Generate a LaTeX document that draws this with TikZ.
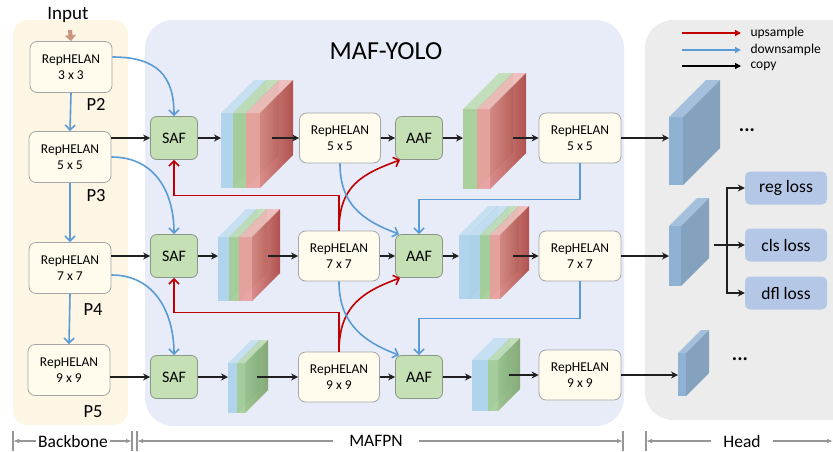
\documentclass[tikz,border=0pt]{standalone}
\usepackage{fontspec}
\setmainfont{Carlito}
\usetikzlibrary{arrows.meta,calc}
\definecolor{bbfill}{RGB}{253,246,229}
\definecolor{mafill}{RGB}{232,236,248}
\definecolor{hdfill}{RGB}{236,236,236}
\definecolor{repfill}{RGB}{255,252,238}
\definecolor{repdraw}{RGB}{165,165,165}
\definecolor{fusefill}{RGB}{197,224,180}
\definecolor{fusedraw}{RGB}{140,150,135}
\definecolor{upred}{RGB}{192,0,0}
\definecolor{downblue}{RGB}{91,155,213}
\definecolor{cblue}{RGB}{172,210,235}
\definecolor{sblue}{RGB}{140,185,215}
\definecolor{cgreen}{RGB}{165,206,150}
\definecolor{sgreen}{RGB}{125,165,110}
\definecolor{cred}{RGB}{234,160,158}
\definecolor{sred}{RGB}{172,70,65}
\definecolor{hfront}{RGB}{142,177,212}
\definecolor{htop}{RGB}{165,192,220}
\definecolor{hside}{RGB}{132,161,190}
\definecolor{lossfill}{RGB}{180,199,231}
\definecolor{brk}{RGB}{150,150,150}
\definecolor{inarr}{RGB}{200,150,130}
% x, w, ytop, ybot, depth, front colour, side colour
\newcommand\fslab[7]{%
  \fill[#6, opacity=0.92] (#1,#3) rectangle (#1+#2,#4);
  \fill[#6!70!white, opacity=0.92] (#1,#3) -- (#1+#2,#3) -- (#1+#2+#5,#3-#5) -- (#1+#5,#3-#5) -- cycle;
  \shade[left color=#6!70!#7, right color=#7, opacity=0.92] (#1+#2,#3) -- (#1+#2+#5,#3-#5) -- (#1+#2+#5,#4-#5) -- (#1+#2,#4) -- cycle;
}
% head slab
\newcommand\hslab[5]{%
  \fill[hfront] (#1,#3) rectangle (#1+#2,#4);
  \fill[htop] (#1,#3) -- (#1+#2,#3) -- (#1+#2+#5,#3-#5) -- (#1+#5,#3-#5) -- cycle;
  \fill[hside] (#1+#2,#3) -- (#1+#2+#5,#3-#5) -- (#1+#2+#5,#4-#5) -- (#1+#2,#4) -- cycle;
}
\begin{document}
\begin{tikzpicture}[x=1pt,y=-1pt,
  rep/.style={draw=repdraw, fill=repfill, rounded corners=7pt, minimum width=82pt, minimum height=51pt,
    align=center, line width=0.8pt, font=\fontsize{13.5}{16}\selectfont, inner sep=1pt},
  fuse/.style={draw=fusedraw, fill=fusefill, rounded corners=6pt, minimum width=47pt, minimum height=43pt,
    line width=0.8pt, font=\fontsize{16}{18}\selectfont, inner sep=1pt},
  loss/.style={fill=lossfill, rounded corners=5pt, minimum width=82pt, minimum height=33pt,
    font=\fontsize{17.5}{20}\selectfont, inner sep=1pt},
  plab/.style={font=\fontsize{18.5}{20}\selectfont},
  copy/.style={-{Stealth[length=7pt,width=7pt]}, line width=1.4pt, draw=black!88},
  upc/.style={-{Straight Barb[length=5pt,width=10pt]}, line width=1.6pt, draw=upred},
  downc/.style={-{Straight Barb[length=5pt,width=10pt]}, line width=1.6pt, draw=downblue},
  brtext/.style={font=\fontsize{17.5}{20}\selectfont, inner ysep=0pt},
  brarrow/.style={-{Latex[length=6pt,width=4.5pt]}, line width=1.1pt, draw=brk},
  brtick/.style={line width=1.1pt, draw=brk}
]
\useasboundingbox (0,0) rectangle (833,451);
% panels
\fill[bbfill, rounded corners=14pt] (13,20) rectangle (128,425);
\fill[mafill, rounded corners=28pt] (145,20) rectangle (624,426);
\begin{scope}
  \clip (0,0) rectangle (833,451);
  \fill[hdfill, rounded corners=28pt] (645,20) rectangle (880,420);
\end{scope}

% title and input
\node[font=\fontsize{26}{30}\selectfont] (title) at (386,51) {MAF-YOLO};
\node[font=\fontsize{19}{22}\selectfont] (input) at (68,15) {Input};

% backbone
\node[rep] (B1) at (71,67) {RepHELAN\\3 x 3};
\node[rep] (B2) at (70,157) {RepHELAN\\5 x 5};
\node[rep] (B3) at (70,268) {RepHELAN\\7 x 7};
\node[rep] (B4) at (69,370) {RepHELAN\\9 x 9};
\node[plab] at (96,104) {P2};
\node[plab] at (96,196) {P3};
\node[plab] at (93,310) {P4};
\node[plab] at (93,412) {P5};

\coordinate (inA) at (70,30);
\draw[inarr, line width=4pt, -{Triangle[length=6pt,width=11pt]}] (inA) -- (B1.north);

\draw[downc] (B1.south) -- (B2.north);
\draw[downc] (B2.south) -- (B3.north);
\draw[downc] (B3.south) -- (B4.north);

% SAF
\node[fuse] (S1) at (174,138) {SAF};
\node[fuse] (S2) at (174,256) {SAF};
\node[fuse] (S3) at (174,377) {SAF};

% middle RepHELAN
\node[rep, minimum width=81pt, minimum height=50pt] (M1) at (340,138) {RepHELAN\\5 x 5};
\node[rep, minimum width=81pt, minimum height=50pt] (M2) at (339,256) {RepHELAN\\7 x 7};
\node[rep, minimum width=81pt, minimum height=50pt] (M3) at (339,377) {RepHELAN\\9 x 9};

% AAF
\node[fuse] (F1) at (419,138) {AAF};
\node[fuse] (F2) at (419,256) {AAF};
\node[fuse] (F3) at (419,377) {AAF};

% right RepHELAN
\node[rep, minimum width=82pt, minimum height=50pt] (R1) at (580,138) {RepHELAN\\5 x 5};
\node[rep, minimum width=82pt, minimum height=50pt] (R2) at (580,256) {RepHELAN\\7 x 7};
\node[rep, minimum width=82pt, minimum height=50pt] (R3) at (580,375) {RepHELAN\\9 x 9};

% feature stacks
\fslab{221}{12}{113}{188}{33}{cblue}{sblue}
\fslab{233}{13}{113}{188}{33}{cgreen}{sgreen}
\fslab{246}{14}{113}{188}{33}{cred}{sred}

\fslab{218}{11}{237}{301}{28}{cblue}{sblue}
\fslab{229}{10}{237}{301}{28}{cgreen}{sgreen}
\fslab{239}{13}{237}{301}{28}{cred}{sred}

\fslab{228}{9}{363}{413}{23}{cblue}{sblue}
\fslab{237}{8}{363}{413}{23}{cgreen}{sgreen}

\fslab{463}{14}{109}{189}{36}{cgreen}{sgreen}
\fslab{477}{13}{109}{189}{36}{cred}{sred}

\fslab{459}{10}{235}{299}{29}{cblue}{sblue}
\fslab{469}{11}{235}{299}{29}{cblue}{sblue}
\fslab{480}{10}{235}{299}{29}{cgreen}{sgreen}
\fslab{490}{10}{235}{299}{29}{cred}{sred}

\fslab{472}{16}{360}{411}{22}{cblue}{sblue}
\fslab{488}{10}{360}{411}{22}{cgreen}{sgreen}

% head slabs
\hslab{669}{14}{117}{185}{37}
\hslab{669}{12}{226}{286}{28}
\hslab{678}{8}{353}{396}{23}

% stack coordinates
\coordinate (A1in) at (221,138); \coordinate (A1out) at (272,138);
\coordinate (A2in) at (218,256); \coordinate (A2out) at (268,256);
\coordinate (A3in) at (228,377); \coordinate (A3out) at (257,377);
\coordinate (C1in) at (463,138); \coordinate (C1out) at (513,138);
\coordinate (C2in) at (459,256); \coordinate (C2out) at (513,256);
\coordinate (C3in) at (472,377); \coordinate (C3out) at (509,375);
\coordinate (H1in) at (669,138);
\coordinate (H2in) at (669,256);
\coordinate (H3in) at (678,375);

% backbone -> SAF
\draw[copy] (B2.east |- S1.west) -- (S1.west);
\draw[copy] (B3.east |- S2.west) -- (S2.west);
\draw[copy] (B4.east |- S3.west) -- (S3.west);
\draw[downc] ([yshift=10pt]B1.east) .. controls +(45,0) and +(0,-40) .. (S1.north);
\draw[downc] (B2.east) .. controls +(45,0) and +(0,-40) .. (S2.north);
\draw[downc] ([yshift=-7pt]B3.east) .. controls +(45,0) and +(0,-40) .. (S3.north);

% row flows
\draw[copy] (S1.east) -- (A1in);
\draw[copy] (A1out) -- (M1.west);
\draw[copy] (M1.east) -- (F1.west);
\draw[copy] (F1.east) -- (C1in);
\draw[copy] (C1out) -- (R1.west);
\draw[copy] (R1.east) -- (H1in);

\draw[copy] (S2.east) -- (A2in);
\draw[copy] (A2out) -- (M2.west);
\draw[copy] (M2.east) -- (F2.west);
\draw[copy] (F2.east) -- (C2in);
\draw[copy] (C2out) -- (R2.west);
\draw[copy] (R2.east) -- (H2in);

\draw[copy] (S3.east) -- (A3in);
\draw[copy] (A3out) -- (M3.west);
\draw[copy] (M3.east) -- (F3.west);
\draw[copy] (F3.east) -- (C3in);
\draw[copy] (C3out) -- (R3.west);
\draw[copy] (R3.east) -- (H3in);

% upsample
\draw[upc] (M2.north) -- ++(0,-35) -| (S1.south);
\draw[upc] (M3.north) -- ++(0,-39) -| (S2.south);
\draw[upc] (M2.north) .. controls +(0,-45) and +(-38,14) .. ([xshift=5pt]F1.south west);
\draw[upc] (M3.north) .. controls +(0,-45) and +(-38,14) .. ([xshift=5pt]F2.south west);

% downsample
\draw[downc] (M1.south) .. controls +(0,40) and +(-38,-14) .. ([xshift=4pt]F2.north west);
\draw[downc] (M2.south) .. controls +(0,40) and +(-38,-14) .. ([xshift=4pt]F3.north west);
\draw[downc] (R1.south) -- ++(0,36) -| (F2.north);
\draw[downc] (R2.south) -- ++(0,37) -| (F3.north);

% head
\node[loss] (reg) at (786,188) {reg loss};
\node[loss] (cls) at (786,245) {cls loss};
\node[loss] (dfl) at (786,293) {dfl loss};
\coordinate (H2out) at (714,245);
\coordinate (Hbr) at (727,245);
\draw[line width=1.4pt, draw=black!88] (H2out) -- (Hbr);
\draw[copy] (Hbr) |- (reg.west);
\draw[copy] (Hbr) -- (cls.west);
\draw[copy] (Hbr) |- (dfl.west);
\node[font=\fontsize{20}{20}\selectfont\bfseries] (dots1) at (747,130) {...};
\node[font=\fontsize{20}{20}\selectfont\bfseries] (dots3) at (740,359) {...};

% legend
\coordinate (L1a) at (682,33); \coordinate (L1b) at (741,33);
\coordinate (L2a) at (682,50); \coordinate (L2b) at (741,50);
\coordinate (L3a) at (682,66); \coordinate (L3b) at (741,66);
\draw[line width=1.5pt, upred, -{Triangle[length=6pt,width=6pt]}] (L1a) -- (L1b);
\draw[line width=1.5pt, downblue, -{Triangle[length=6pt,width=6pt]}] (L2a) -- (L2b);
\draw[line width=1.3pt, black, -{Triangle[length=6pt,width=6pt]}] (L3a) -- (L3b);
\node[anchor=west, font=\fontsize{13.5}{15}\selectfont] (lg1) at (747,33) {upsample};
\node[anchor=west, font=\fontsize{13.5}{15}\selectfont] (lg2) at (747,50) {downsample};
\node[anchor=west, font=\fontsize{13.5}{15}\selectfont] (lg3) at (747,66) {copy};

% bottom brackets
\draw[brtick] (13,431) -- (13,451);
\draw[brtick] (132,431) -- (132,451);
\draw[brtick] (137,431) -- (137,451);
\draw[brtick] (623,431) -- (623,451);
\draw[brtick] (646,431) -- (646,451);
\coordinate (k1) at (13,441);
\coordinate (k2) at (132,441);
\coordinate (k3) at (137,441);
\coordinate (k4) at (623,441);
\coordinate (k5) at (646,441);
\coordinate (k6) at (833,441);
\node[brtext, inner xsep=2pt] (bbt) at (73,441) {Backbone};
\node[brtext, inner xsep=16pt] (mft) at (376,441) {MAFPN};
\node[brtext, inner xsep=12pt] (hdt) at (742,441) {Head};
\draw[brarrow] (bbt.west) -- (k1);
\draw[brarrow] (bbt.east) -- (k2);
\draw[brarrow] (mft.west) -- (k3);
\draw[brarrow] (mft.east) -- (k4);
\draw[brarrow] (hdt.west) -- (k5);
\draw[brarrow] (hdt.east) -- (k6);
\end{tikzpicture}
\end{document}
